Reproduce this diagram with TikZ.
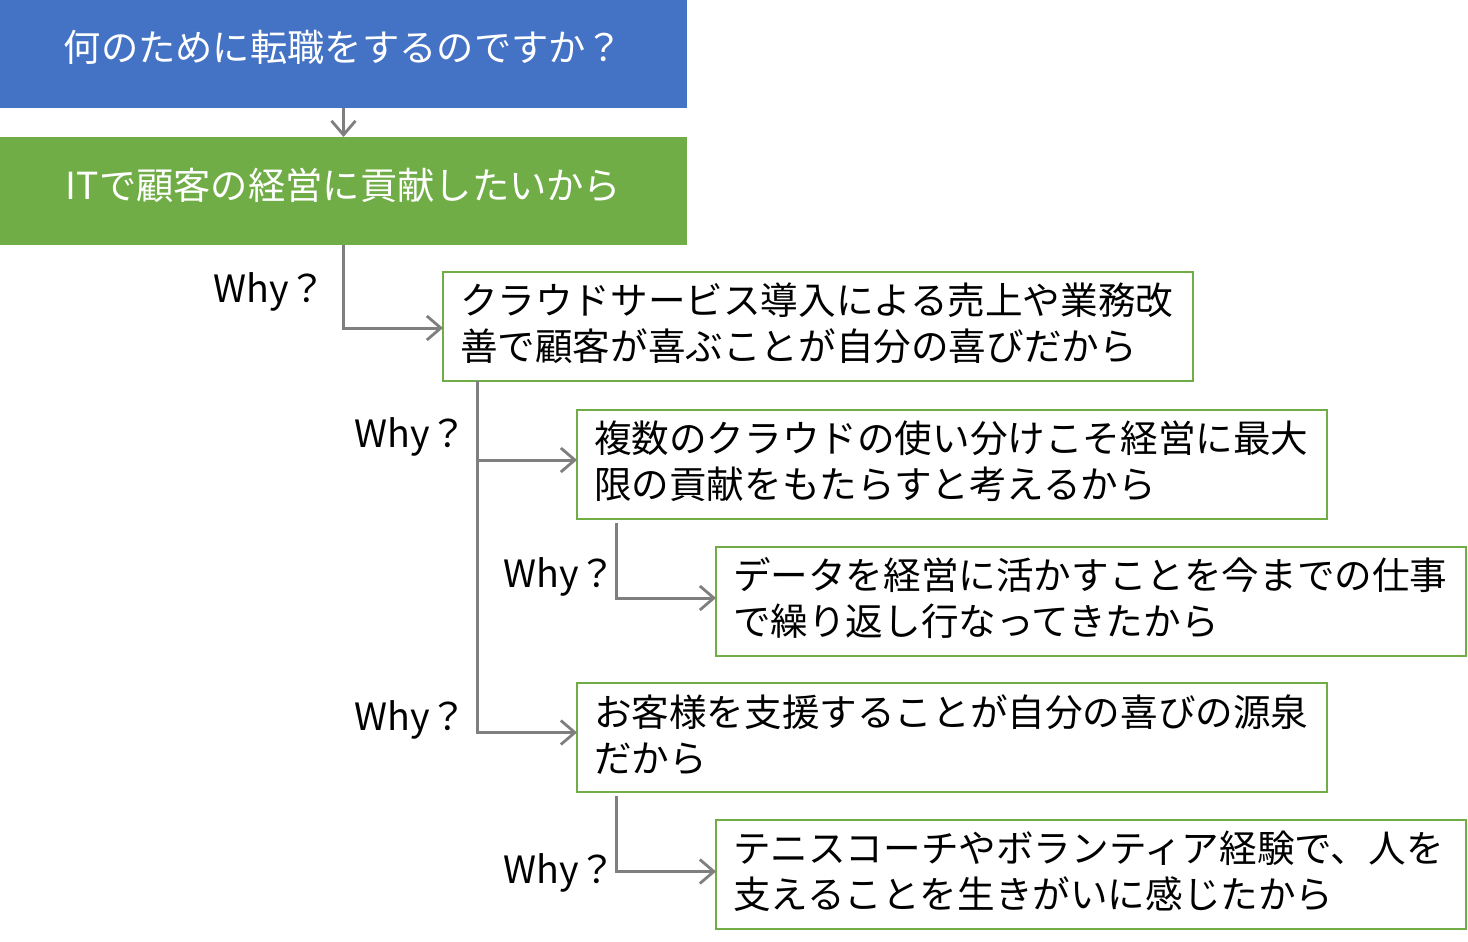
\documentclass[tikz,border=0pt]{standalone}
\usepackage{fontspec}
\setmainfont{Noto Sans CJK JP}
\usetikzlibrary{arrows.meta}
\definecolor{hdblue}{HTML}{4472C4}
\definecolor{hdgreen}{HTML}{70AD47}
\definecolor{conngray}{HTML}{7F7F7F}
\tikzset{
  headbox/.style={anchor=north west, minimum width=687pt, minimum height=108pt, inner sep=0pt, outer sep=0pt, text=white, text height=30pt, text depth=14pt, font=\fontsize{37.3}{46}\selectfont},
  whybox/.style={anchor=north west, draw=hdgreen, line width=2pt, text width=716pt, inner xsep=17pt, minimum height=109pt, align=left, outer sep=0pt, font=\fontsize{37.6}{46}\selectfont, execute at end node={\par\vspace*{6pt}}},
  whylabel/.style={font=\fontsize{37.6}{46}\selectfont, inner sep=0pt},
  conn/.style={draw=conngray, line width=3pt, -{Straight Barb[length=14pt,width=24pt,line width=2.8pt]}},
}
\begin{document}
\begin{tikzpicture}[x=1pt,y=-1pt]
\useasboundingbox (0,0) rectangle (1468,942);
\node[headbox, fill=hdblue] (q) at (0,0) {何のために転職をするのですか？};
\node[headbox, fill=hdgreen] (a) at (0,137) {ITで顧客の経営に貢献したいから};
\node[whybox] (b1) at (443,272) {クラウドサービス導入による売上や業務改\\善で顧客が喜ぶことが自分の喜びだから};
\node[whybox] (b2) at (577,410) {複数のクラウドの使い分けこそ経営に最大\\限の貢献をもたらすと考えるから};
\node[whybox] (b3) at (716,547) {データを経営に活かすことを今までの仕事\\で繰り返し行なってきたから};
\node[whybox] (b4) at (577,683) {お客様を支援することが自分の喜びの源泉\\だから};
\node[whybox] (b5) at (716,820) {テニスコーチやボランティア経験で、人を\\支えることを生きがいに感じたから};
\node[whylabel] (w1) at (270,292) {Why？};
\node[whylabel] (w2) at (411,437) {Why？};
\node[whylabel] (w3) at (560,577) {Why？};
\node[whylabel] (w4) at (411,720) {Why？};
\node[whylabel] (w5) at (560,873) {Why？};
\draw[conn] (q.south) -- (a.north);
\draw[conn] (a.south) |- ([yshift=-1.5pt]b1.west);
\draw[conn] ([xshift=34pt]b1.south west) |- ([yshift=4.5pt]b2.west);
\draw[conn] ([xshift=34pt]b1.south west) |- ([yshift=5pt]b4.west);
\draw[conn] ([xshift=39pt,yshift=-4pt]b2.south west) |- ([yshift=3.5pt]b3.west);
\draw[conn] ([xshift=39pt,yshift=-4pt]b4.south west) |- ([yshift=3pt]b5.west);
\end{tikzpicture}
\end{document}
